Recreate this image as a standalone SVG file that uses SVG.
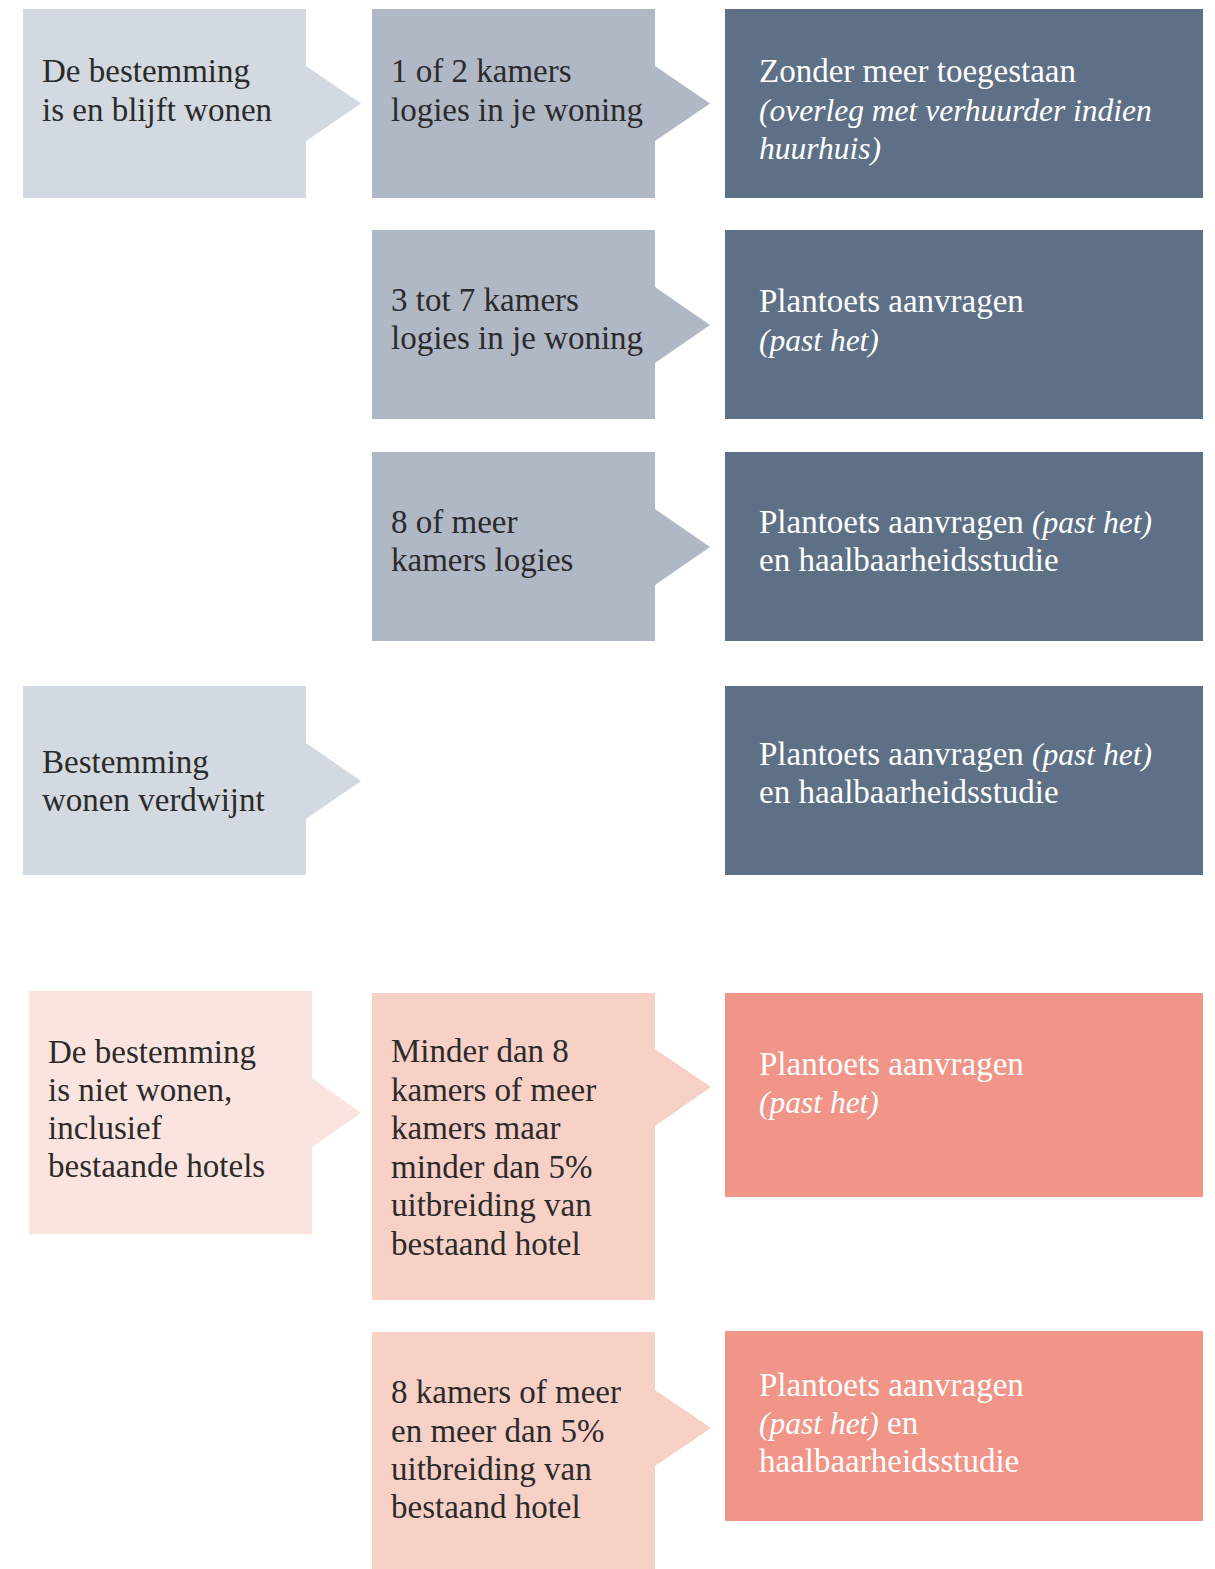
<svg xmlns="http://www.w3.org/2000/svg" width="1215" height="1569" viewBox="0 0 1215 1569">
<style>
text{font-family:"Liberation Serif","Times New Roman",serif;font-size:33px}
.d{fill:#2b2b2b}
.w{fill:#ffffff}
.i{font-style:italic;font-size:31.5px}
.c1{fill:#d3d9e1}
.c2{fill:#b0b7c5}
.c3{fill:#5d7086}
.p1{fill:#fbe4df}
.p2{fill:#f7d0c6}
.p3{fill:#f09587}
</style>
<rect width="1215" height="1569" fill="#ffffff"/>
<g id="connectors">
<polygon class="c1" points="306,66 361,103.5 306,141"/>
<polygon class="c2" points="655,66 710,103.5 655,141"/>
<polygon class="c2" points="655,287 710,325 655,363"/>
<polygon class="c2" points="655,509 710,547 655,585"/>
<polygon class="c1" points="306,743 361,781 306,819"/>
<polygon class="p1" points="312,1078 361,1113 312,1147"/>
<polygon class="p2" points="655,1049 711,1087 655,1126"/>
<polygon class="p2" points="655,1390 711,1428 655,1466"/>
</g>
<g id="node-wonen">
<rect class="c1" x="23" y="9" width="283" height="189"/>
<text class="d" x="42" y="82">De bestemming</text>
<text class="d" x="42" y="121">is en blijft wonen</text>
</g>
<g id="node-1of2">
<rect class="c2" x="372" y="9" width="283" height="189"/>
<text class="d" x="391" y="82">1 of 2 kamers</text>
<text class="d" x="391" y="121">logies in je woning</text>
</g>
<g id="node-toegestaan">
<rect class="c3" x="725" y="9" width="478" height="189"/>
<text class="w" x="759" y="82">Zonder meer toegestaan</text>
<text class="w i" x="759" y="121">(overleg met verhuurder indien</text>
<text class="w i" x="759" y="159">huurhuis)</text>
</g>
<g id="node-3tot7">
<rect class="c2" x="372" y="230" width="283" height="189"/>
<text class="d" x="391" y="311">3 tot 7 kamers</text>
<text class="d" x="391" y="349">logies in je woning</text>
</g>
<g id="node-plantoets2">
<rect class="c3" x="725" y="230" width="478" height="189"/>
<text class="w" x="759" y="312">Plantoets aanvragen</text>
<text class="w i" x="759" y="351">(past het)</text>
</g>
<g id="node-8ofmeer">
<rect class="c2" x="372" y="452" width="283" height="189"/>
<text class="d" x="391" y="533">8 of meer</text>
<text class="d" x="391" y="571">kamers logies</text>
</g>
<g id="node-plantoets3">
<rect class="c3" x="725" y="452" width="478" height="189"/>
<text class="w" x="759" y="533">Plantoets aanvragen <tspan class="i">(past het)</tspan></text>
<text class="w" x="759" y="571">en haalbaarheidsstudie</text>
</g>
<g id="node-verdwijnt">
<rect class="c1" x="23" y="686" width="283" height="189"/>
<text class="d" x="42" y="773">Bestemming</text>
<text class="d" x="42" y="811">wonen verdwijnt</text>
</g>
<g id="node-plantoets4">
<rect class="c3" x="725" y="686" width="478" height="189"/>
<text class="w" x="759" y="765">Plantoets aanvragen <tspan class="i">(past het)</tspan></text>
<text class="w" x="759" y="803">en haalbaarheidsstudie</text>
</g>
<g id="node-nietwonen">
<rect class="p1" x="29" y="991" width="283" height="243"/>
<text class="d" x="48" y="1063">De bestemming</text>
<text class="d" x="48" y="1101">is niet wonen,</text>
<text class="d" x="48" y="1139">inclusief</text>
<text class="d" x="48" y="1177">bestaande hotels</text>
</g>
<g id="node-minderdan8">
<rect class="p2" x="372" y="993" width="283" height="307"/>
<text class="d" x="391" y="1062">Minder dan 8</text>
<text class="d" x="391" y="1101">kamers of meer</text>
<text class="d" x="391" y="1139">kamers maar</text>
<text class="d" x="391" y="1178">minder dan 5%</text>
<text class="d" x="391" y="1216">uitbreiding van</text>
<text class="d" x="391" y="1255">bestaand hotel</text>
</g>
<g id="node-plantoets5">
<rect class="p3" x="725" y="993" width="478" height="204"/>
<text class="w" x="759" y="1075">Plantoets aanvragen</text>
<text class="w i" x="759" y="1113">(past het)</text>
</g>
<g id="node-8ofmeer-hotel">
<rect class="p2" x="372" y="1332" width="283" height="237"/>
<text class="d" x="391" y="1403">8 kamers of meer</text>
<text class="d" x="391" y="1442">en meer dan 5%</text>
<text class="d" x="391" y="1480">uitbreiding van</text>
<text class="d" x="391" y="1518">bestaand hotel</text>
</g>
<g id="node-plantoets6">
<rect class="p3" x="725" y="1331" width="478" height="190"/>
<text class="w" x="759" y="1396">Plantoets aanvragen</text>
<text class="w" x="759" y="1434"><tspan class="i">(past het)</tspan> en</text>
<text class="w" x="759" y="1472">haalbaarheidsstudie</text>
</g>
</svg>
